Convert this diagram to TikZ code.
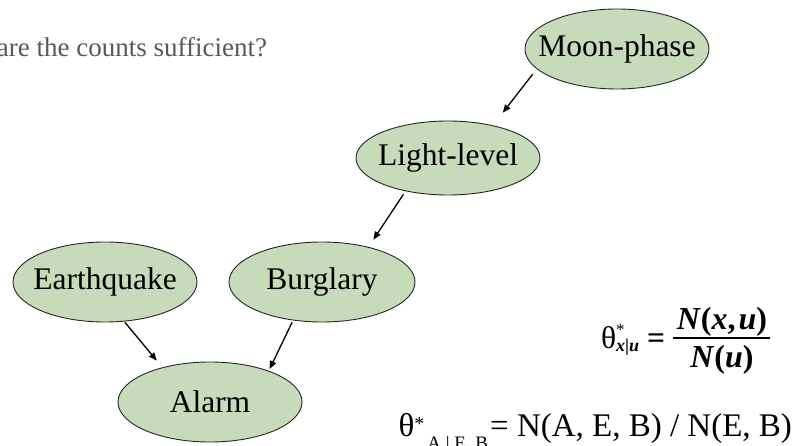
\documentclass[tikz,border=0pt]{standalone}
\usepackage{fontspec}
\setmainfont{Liberation Serif}
\usetikzlibrary{shapes.geometric,arrows.meta}
\definecolor{nodegreen}{RGB}{198,219,185}
\definecolor{captiongray}{RGB}{88,88,88}
\begin{document}
\begin{tikzpicture}[x=1pt,y=-1pt,
  bnode/.style={ellipse, draw=black!85, line width=0.9pt, fill=nodegreen,
    minimum width=184pt, minimum height=80pt, inner sep=0pt,
    font=\fontsize{31.5}{36}\selectfont},
  arr/.style={-{Triangle[length=8pt,width=6.5pt]}, line width=1.3pt},
  txt/.style={inner sep=0pt, outer sep=0pt}]
\useasboundingbox (0,0) rectangle (796,446);

% nodes of the network
\node[bnode] (moon) at (617,49) {\makebox[0pt]{Moon-phase}};
\node[bnode, minimum height=74pt] (light) at (448,158) {\makebox[0pt]{Light-level}};
\node[bnode] (earth) at (105,282) {\makebox[0pt]{Earthquake}};
\node[bnode, minimum width=186pt] (burg) at (322,282) {\makebox[0pt]{Burglary}};
\node[bnode] (alarm) at (210,402) {\makebox[0pt]{Alarm}};

% connectors
\draw[arr, shorten <=6.5pt, shorten >=16pt] (moon.194) -- (light.36.4);
\draw[arr, shorten <=3.5pt, shorten >=8.7pt] (light.218.9) -- (burg.37.2);
\draw[arr, shorten <=1pt, shorten >=8.7pt] (earth.296.3) -- (alarm.144.2);
\draw[arr, shorten <=2pt, shorten >=2pt] (burg.233.7) -- (alarm.28.2);

% caption
\node[txt, anchor=base west, text=captiongray, font=\fontsize{27}{32}\selectfont]
  (question) at (-3,57) {are the counts sufficient?};

% general formula
\node[txt, anchor=base west, font=\fontsize{31.5}{36}\selectfont] (thgen) at (601,349)
  {θ\rlap{\raisebox{13pt}{\fontsize{17}{18}\selectfont *}}\raisebox{-3pt}{\fontsize{18}{20}\selectfont\bfseries\itshape x\upshape|\itshape u}\kern8pt\textbf{=}};
\node[txt, anchor=base, font=\fontsize{32}{36}\selectfont\bfseries] (num) at (722,330)
  {\textit{N}(\textit{x},\kern3pt\textit{u})};
\node[txt, anchor=base, font=\fontsize{32}{36}\selectfont\bfseries] (den) at (722,368)
  {\textit{N}(\textit{u})};
\draw[line width=1.3pt] (673,338) -- (770,338);

% specific formula
\node[txt, anchor=base east, font=\fontsize{33}{38}\selectfont] (thspec) at (792,437)
  {θ\raisebox{6pt}{\fontsize{20}{22}\selectfont *}\kern3pt\raisebox{-13pt}{\fontsize{19}{21}\selectfont A | E, B}\kern2pt= N(A, E, B) / N(E, B)};
\end{tikzpicture}
\end{document}
